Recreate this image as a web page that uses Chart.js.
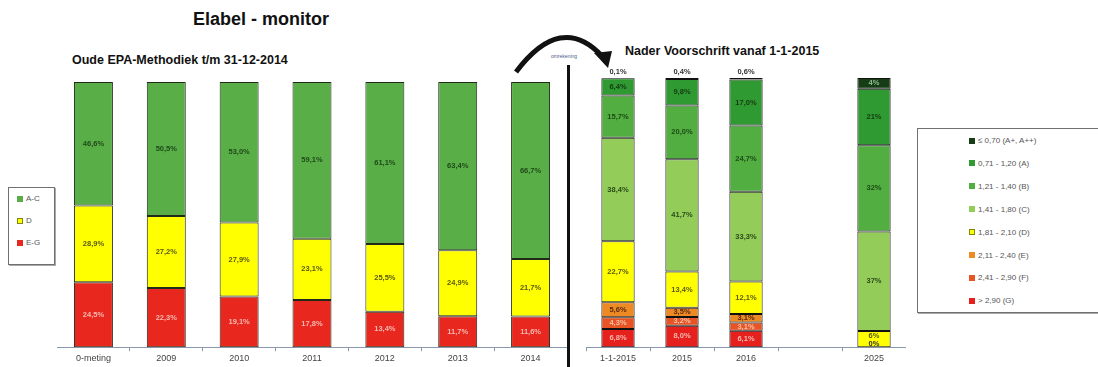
<!DOCTYPE html>
<html>
<head>
<meta charset="utf-8">
<script src="https://cdn.jsdelivr.net/npm/chart.js@4/dist/chart.umd.min.js"></script>
<style>
  body { margin: 0; background: #fff; width: 1098px; height: 367px; overflow: hidden; position: relative; font-family: 'Liberation Sans', Arial, sans-serif; }
  .abs { position: absolute; }
  .title { left: 193px; top: 9px; font-size: 18px; font-weight: bold; color: #111; white-space: nowrap; }
  .sub { font-size: 12.5px; font-weight: bold; color: #111; white-space: nowrap; }
  .legend { border: 1px solid #707070; box-shadow: 1px 1px 0 #aaa; background: #fff; }
  .legend .item { position: absolute; font-size: 8px; color: #555; white-space: nowrap; line-height: 10px; }
  .legend .mark { display: inline-block; width: 6px; height: 6px; margin-right: 3px; vertical-align: -0.5px; }
  .divider { left: 567px; top: 65px; width: 3px; height: 302px; background: #111; }
</style>
</head>
<body>
<div class="abs title">Elabel - monitor</div>
<div class="abs sub" style="left:72px; top:53px;">Oude EPA-Methodiek t/m 31-12-2014</div>
<div class="abs sub" style="left:625px; top:44px;">Nader Voorschrift vanaf 1-1-2015</div>

<svg class="abs" style="left:0; top:0;" width="1098" height="367">
  <path d="M516,72 Q561,12 602,56" fill="none" stroke="#111" stroke-width="5"/>
  <polygon points="594,53 612,51 608,68" fill="#111"/>
  <text x="564" y="58" font-size="5" fill="#4a5a8a" text-anchor="middle" font-family="Liberation Sans, Arial">omrekening</text>
</svg>
<div class="abs divider"></div>

<div class="abs" style="left:57px; top:76px; width:510px; height:291px;"><canvas id="oudeChart"></canvas></div>
<div class="abs" style="left:586px; top:60px; width:320px; height:307px;"><canvas id="naderChart"></canvas></div>

<div id="oudeLegend" class="abs legend" style="left:8px; top:187px; width:45px; height:76px;"></div>
<div id="naderLegend" class="abs legend" style="left:917px; top:128px; width:200px; height:183px;"></div>

<script>
// Oude EPA-methodiek (t/m 31-12-2014)
const oudeCategories = ['0-meting', '2009', '2010', '2011', '2012', '2013', '2014'];
const oudeAC = [46.6, 50.5, 53.0, 59.1, 61.1, 63.4, 66.7];
const oudeD  = [28.9, 27.2, 27.9, 23.1, 25.5, 24.9, 21.7];
const oudeEG = [24.5, 22.3, 19.1, 17.8, 13.4, 11.7, 11.6];

// Nader Voorschrift (vanaf 1-1-2015), lege kolom tussen 2016 en 2025
const naderCategories = ['1-1-2015', '2015', '2016', '', '2025'];
const naderAplus = [0.1, 0.4, 0.6, null, 4];
const naderA     = [6.4, 9.8, 17.0, null, 21];
const naderB     = [15.7, 20.0, 24.7, null, 32];
const naderC     = [38.4, 41.7, 33.3, null, 37];
const naderD     = [22.7, 13.4, 12.1, null, 6];
const naderE     = [5.6, 3.5, 3.1, null, 0];
const naderF     = [4.3, 3.2, 3.1, null, 0];
const naderG     = [6.8, 8.0, 6.1, null, 0];
const naderDecimals = [1, 1, 1, 1, 0];

const naderLegendLabels = ['\u2264 0,70 (A+, A++)', '0,71 - 1,20 (A)', '1,21 - 1,40 (B)', '1,41 - 1,80 (C)',
  '1,81 - 2,10 (D)', '2,11 - 2,40 (E)', '2,41 - 2,90 (F)', '> 2,90 (G)'];

const fmt = (v, dec) => v.toFixed(dec).replace('.', ',') + '%';

// tekst in de segmenten
const segmentLabels = {
    id: 'segmentLabels',
    afterDatasetsDraw(chart, args, opts) {
        const ctx = chart.ctx;
        ctx.save();
        ctx.font = opts.font;
        ctx.textAlign = 'center';
        ctx.textBaseline = 'middle';
        const sets = chart.data.datasets;
        const last = sets.length - 1;
        const zeroDone = {};
        for (let di = last; di >= 0; di--) {
            const ds = sets[di];
            const meta = chart.getDatasetMeta(di);
            meta.data.forEach((bar, i) => {
                const v = ds.data[i];
                if (v == null) return;
                const dec = opts.decimals ? opts.decimals[i] : 1;
                const h = Math.abs(bar.base - bar.y);
                ctx.fillStyle = ds.labelColor;
                if (v === 0) {
                    if (zeroDone[i]) return;
                    zeroDone[i] = true;
                    ctx.fillStyle = '#333';
                    ctx.fillText(fmt(v, dec), bar.x, bar.y - 3);
                } else if (di === last && h < 8) {
                    ctx.fillStyle = '#333';
                    ctx.fillText(fmt(v, dec), bar.x, bar.y - 6);
                } else if (h >= 7) {
                    // ruimte maken voor een 0%-label eronder
                    const below = di > 0 ? sets[di - 1].data[i] : null;
                    const shift = below === 0 ? -3 : 0;
                    ctx.fillText(fmt(v, dec), bar.x, (bar.y + bar.base) / 2 + shift);
                }
            });
        }
        ctx.restore();
    }
};

function makeOptions(barPct, pad, decimals) {
    return {
        responsive: true,
        maintainAspectRatio: false,
        animation: false,
        layout: { padding: pad },
        plugins: {
            legend: { display: false },
            tooltip: { enabled: false },
            segmentLabels: { font: 'bold 7.5px "Liberation Sans", Arial', decimals: decimals }
        },
        datasets: { bar: { categoryPercentage: 1, barPercentage: barPct } },
        scales: {
            x: {
                stacked: true,
                grid: { display: true, drawOnChartArea: false, offset: true, tickLength: 4, color: '#8a98ad' },
                border: { color: '#8a98ad', width: 1 },
                ticks: { color: '#444', font: { size: 9, family: '"Liberation Sans", Arial' }, padding: 2 }
            },
            y: { stacked: true, display: false, min: 0, max: 100 }
        }
    };
}

const oudeSeries = [
    { label: 'E-G', data: oudeEG, color: '#e8281e', text: '#f6b8b0' },
    { label: 'D', data: oudeD, color: '#ffff00', text: '#5a5a10' },
    { label: 'A-C', data: oudeAC, color: '#5aae48', text: '#1e4a18' }
];

new Chart(document.getElementById('oudeChart'), {
    type: 'bar',
    data: {
        labels: oudeCategories,
        datasets: oudeSeries.map(s => ({
            label: s.label, data: s.data, backgroundColor: s.color,
            borderColor: '#1f2a18', borderWidth: 1, borderSkipped: false, labelColor: s.text
        }))
    },
    options: makeOptions(0.535, { top: 6, bottom: 1, left: 0, right: 0 }),
    plugins: [segmentLabels]
});

const naderSeries = [
    { data: naderG, color: '#e6201c', text: '#f6b8b0' },
    { data: naderF, color: '#e85424', text: '#f6c0a8' },
    { data: naderE, color: '#ee8a24', text: '#5a2a10' },
    { data: naderD, color: '#ffff00', text: '#5a5a10' },
    { data: naderC, color: '#94cc5a', text: '#2a4a18' },
    { data: naderB, color: '#52ae40', text: '#1e4a18' },
    { data: naderA, color: '#2f9a31', text: '#163a14' },
    { data: naderAplus, color: '#173d17', text: '#8fbf8f' }
];
naderSeries.forEach((s, i) => { s.label = naderLegendLabels[naderLegendLabels.length - 1 - i]; });

new Chart(document.getElementById('naderChart'), {
    type: 'bar',
    data: {
        labels: naderCategories,
        datasets: naderSeries.map(s => ({
            label: s.label, data: s.data, backgroundColor: s.color,
            borderColor: '#111', borderWidth: 1, borderSkipped: false, labelColor: s.text
        }))
    },
    options: makeOptions(0.52, { top: 18, bottom: 1, left: 0, right: 0 }, naderDecimals),
    plugins: [segmentLabels]
});

// legenda's
function buildLegend(id, series, markX, startY, step) {
    const box = document.getElementById(id);
    series.slice().reverse().forEach((s, i) => {
        const el = document.createElement('div');
        el.className = 'item';
        el.style.left = markX + 'px';
        el.style.top = (startY + i * step) + 'px';
        const border = s.color === '#ffff00' ? 'border:1px solid #7a8a10; width:4px; height:4px;' : '';
        el.innerHTML = `<span class="mark" style="background:${s.color};${border}"></span>${s.label}`;
        box.appendChild(el);
    });
}
buildLegend('oudeLegend', oudeSeries, 8, 6, 22);
buildLegend('naderLegend', naderSeries, 51, 7, 22.9);
</script>
</body>
</html>
